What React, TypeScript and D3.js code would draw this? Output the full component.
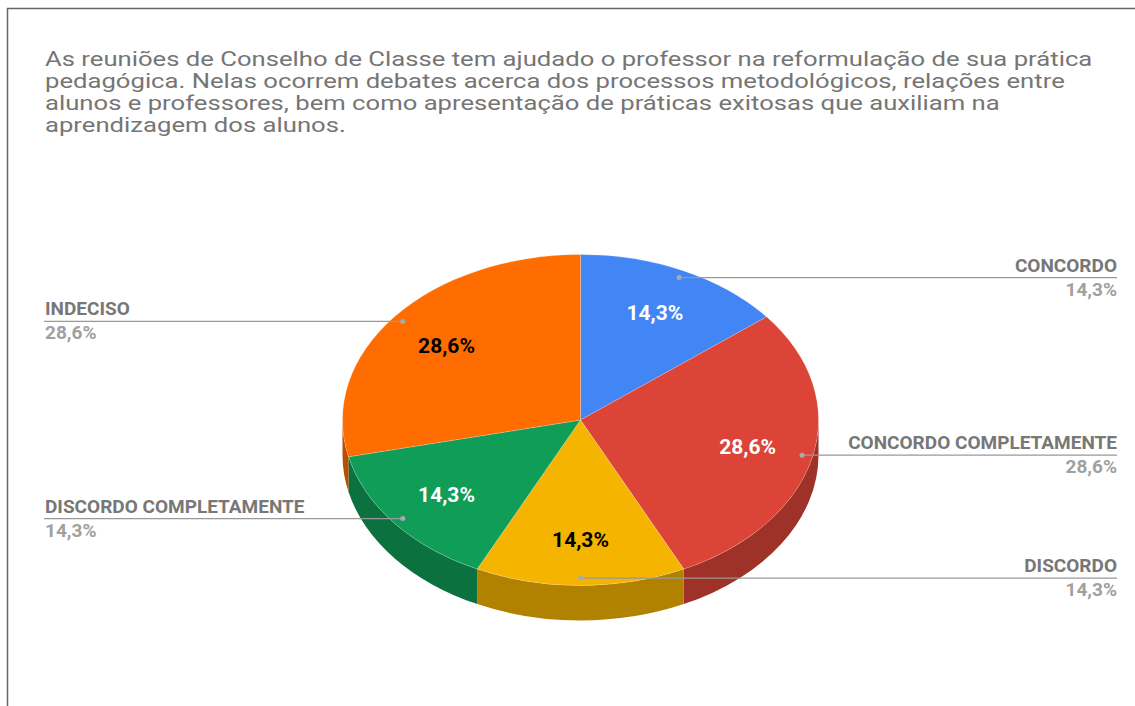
import { useEffect, useRef } from 'react';
import * as d3 from 'd3';

const titleLines = [
  'As reuniões de Conselho de Classe tem ajudado o professor na reformulação de sua prática',
  'pedagógica. Nelas ocorrem debates acerca dos processos metodológicos, relações entre',
  'alunos e professores, bem como apresentação de práticas exitosas que auxiliam na',
  'aprendizagem dos alunos.',
];

const categories = ['CONCORDO', 'CONCORDO COMPLETAMENTE', 'DISCORDO', 'DISCORDO COMPLETAMENTE', 'INDECISO'];
const values = [1, 2, 1, 1, 2];
const colors = ['#4285F4', '#DB4437', '#F4B400', '#0F9D58', '#FF6D01'];
const innerTextColors = ['#ffffff', '#ffffff', '#000000', '#ffffff', '#000000'];

interface Slice {
  label: string;
  value: number;
  color: string;
  textColor: string;
}

const W = 1135;
const H = 706;

export default function App() {
  const svgRef = useRef<SVGSVGElement>(null);

  useEffect(() => {
    if (!svgRef.current) return;
    const svg = d3.select(svgRef.current);
    svg.selectAll('*').remove();

    const data: Slice[] = categories.map((c, i) => ({
      label: c, value: values[i], color: colors[i], textColor: innerTextColors[i],
    }));
    const total = d3.sum(values);
    const fmt = (v: number) => (v / total * 100).toFixed(1).replace('.', ',') + '%';

    // frame (top + left edges of the screenshot)
    svg.append('line').attr('x1', 7).attr('x2', W).attr('y1', 8.5).attr('y2', 8.5)
      .attr('stroke', '#666').attr('stroke-width', 1.5);
    svg.append('line').attr('x1', 7.5).attr('x2', 7.5).attr('y1', 8).attr('y2', H)
      .attr('stroke', '#666').attr('stroke-width', 1.5);

    // title is stretched horizontally in the source image
    svg.append('g').attr('transform', 'translate(45,0) scale(1.283,1)')
      .selectAll('text').data(titleLines).join('text')
      .attr('x', 0).attr('y', (_, i) => 66 + i * 22)
      .attr('font-family', 'Roboto').attr('font-size', 20).attr('fill', '#757575')
      .text((d) => d);

    const cx = 580.5, cy = 420, rx = 238, ry = 165.5, depth = 35;
    const pt = (a: number, r = 1, dy = 0): [number, number] =>
      [cx + rx * r * Math.sin(a), cy - ry * r * Math.cos(a) + dy];

    const pie = d3.pie<Slice>().value((d) => d.value).sort(null);
    const arcs = pie(data);

    const darker = (c: string) => {
      const k = d3.rgb(c);
      return d3.rgb(k.r * 0.72, k.g * 0.72, k.b * 0.72).toString();
    };

    // side walls (front half only)
    const sides = svg.append('g');
    arcs.forEach((d) => {
      const b1 = Math.max(d.startAngle, Math.PI / 2);
      const b2 = Math.min(d.endAngle, Math.PI * 1.5);
      if (b2 <= b1) return;
      const [x1, y1] = pt(b1);
      const [x2, y2] = pt(b2);
      const p = `M${x1},${y1} A${rx},${ry} 0 0 1 ${x2},${y2} L${x2},${y2 + depth} A${rx},${ry} 0 0 0 ${x1},${y1 + depth} Z`;
      sides.append('path').attr('d', p).attr('fill', darker(d.data.color));
    });

    // top faces
    const tops = svg.append('g');
    arcs.forEach((d) => {
      const [x1, y1] = pt(d.startAngle);
      const [x2, y2] = pt(d.endAngle);
      const large = d.endAngle - d.startAngle > Math.PI ? 1 : 0;
      tops.append('path')
        .attr('d', `M${cx},${cy} L${x1},${y1} A${rx},${ry} 0 ${large} 1 ${x2},${y2} Z`)
        .attr('fill', d.data.color)
        .attr('stroke', '#ffffff').attr('stroke-opacity', 0.25).attr('stroke-width', 0.8);
    });

    // inside percentage labels
    svg.append('g').selectAll('text').data(arcs).join('text')
      .attr('x', (d) => pt((d.startAngle + d.endAngle) / 2, 0.72)[0])
      .attr('y', (d) => pt((d.startAngle + d.endAngle) / 2, 0.72)[1])
      .attr('dy', '0.36em').attr('text-anchor', 'middle')
      .attr('font-family', 'Roboto').attr('font-weight', 700).attr('font-size', 21)
      .attr('fill', (d) => d.data.textColor)
      .text((d) => fmt(d.data.value));

    // leader lines + outside labels
    const lg = svg.append('g');
    arcs.forEach((d) => {
      const mid = (d.startAngle + d.endAngle) / 2;
      const [dx, dy] = pt(mid, 0.955);
      const right = mid <= Math.PI + 1e-6;
      const ex = right ? 1117 : 44;
      lg.append('line').attr('x1', dx).attr('x2', ex).attr('y1', dy).attr('y2', dy)
        .attr('stroke', '#999999').attr('stroke-width', 1.3);
      lg.append('circle').attr('cx', dx).attr('cy', dy).attr('r', 2.5).attr('fill', '#aaaaaa');
      lg.append('text').attr('x', right ? ex : ex + 1).attr('y', dy - 6)
        .attr('text-anchor', right ? 'end' : 'start')
        .attr('font-family', 'Roboto').attr('font-weight', 700).attr('font-size', 19)
        .attr('fill', '#777777').text(d.data.label);
      lg.append('text').attr('x', right ? ex : ex + 1).attr('y', dy + 18)
        .attr('text-anchor', right ? 'end' : 'start')
        .attr('font-family', 'Roboto').attr('font-weight', 700).attr('font-size', 19)
        .attr('fill', '#a0a0a0').text(fmt(d.data.value));
    });
  }, []);

  return (
    <svg ref={svgRef} width={W} height={H}
      style={{ position: 'absolute', left: 0, top: 0, background: '#fff' }} />
  );
}
